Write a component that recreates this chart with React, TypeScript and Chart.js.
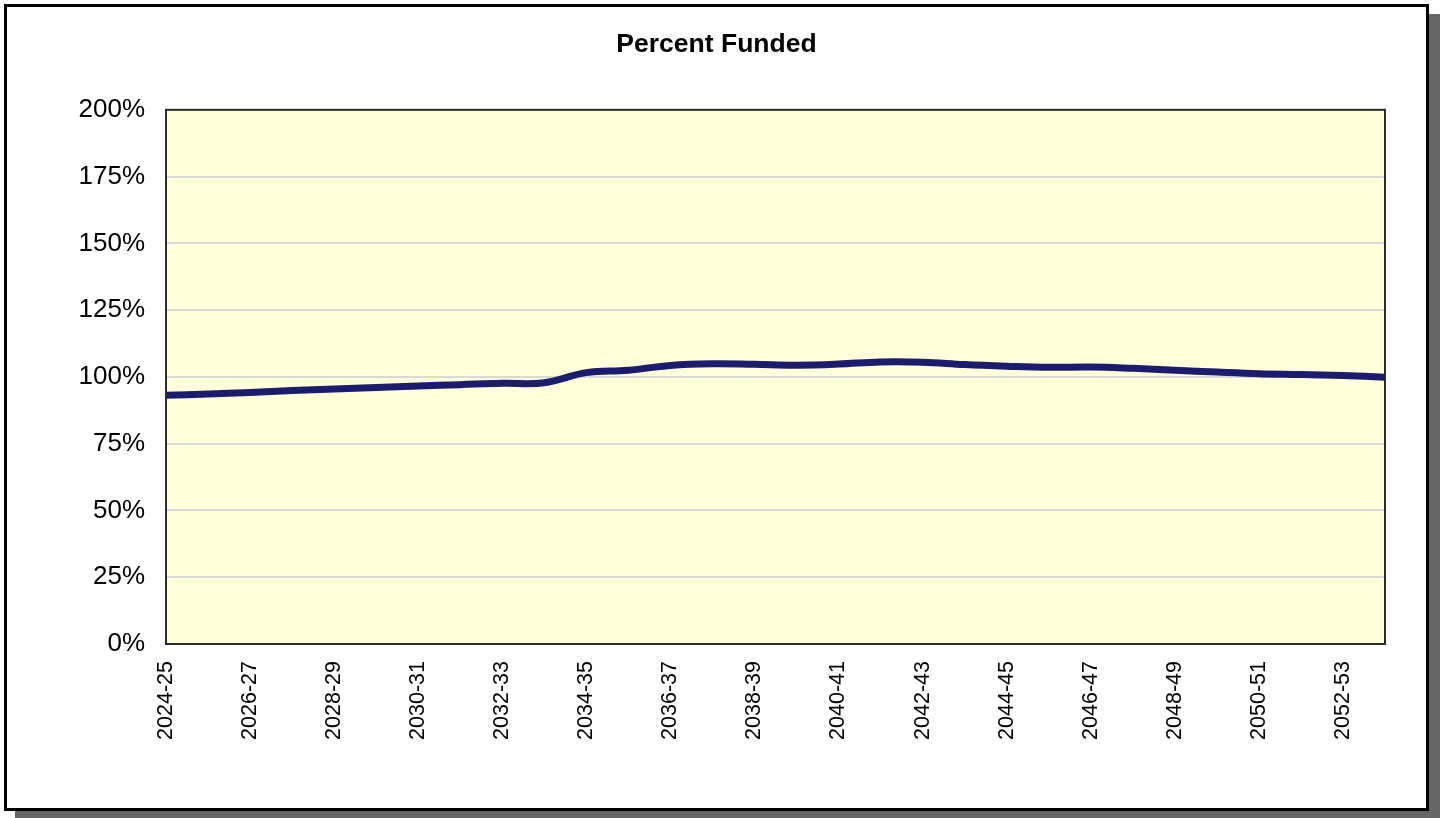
import React, { useEffect, useRef } from "react";
import { Chart, registerables } from "chart.js";

Chart.register(...registerables);

const years: string[] = [
  "2024-25", "2025-26", "2026-27", "2027-28", "2028-29", "2029-30",
  "2030-31", "2031-32", "2032-33", "2033-34", "2034-35", "2035-36",
  "2036-37", "2037-38", "2038-39", "2039-40", "2040-41", "2041-42",
  "2042-43", "2043-44", "2044-45", "2045-46", "2046-47", "2047-48",
  "2048-49", "2049-50", "2050-51", "2051-52", "2052-53", "2053-54",
];

const percentFunded: number[] = [
  93.1, 93.6, 94.2, 94.9, 95.5, 96.0, 96.6, 97.1, 97.6, 97.8,
  101.6, 102.5, 104.3, 104.9, 104.7, 104.4, 104.8, 105.6, 105.5, 104.6,
  104.0, 103.6, 103.7, 103.2, 102.5, 101.8, 101.2, 100.9, 100.5, 99.9,
];

const yTicks: number[] = [0, 25, 50, 75, 100, 125, 150, 175, 200];

const FONT = "'Liberation Sans', Arial, Helvetica, sans-serif";

const plotBgPlugin = {
  id: "plotBg",
  beforeDraw(chart: any) {
    const { ctx, chartArea } = chart;
    ctx.save();
    ctx.fillStyle = "#FFFFD9";
    ctx.fillRect(chartArea.left, chartArea.top, chartArea.right - chartArea.left, chartArea.bottom - chartArea.top);
    ctx.restore();
  },
  afterDraw(chart: any) {
    const { ctx, chartArea } = chart;
    ctx.save();
    ctx.strokeStyle = "#2b2b2b";
    ctx.lineWidth = 2;
    ctx.strokeRect(chartArea.left, chartArea.top, chartArea.right - chartArea.left, chartArea.bottom - chartArea.top);
    ctx.restore();
  },
};

export default function App() {
  const ref = useRef<HTMLCanvasElement | null>(null);

  useEffect(() => {
    if (!ref.current) return;
    const chart = new Chart(ref.current, {
      type: "line",
      data: {
        labels: years,
        datasets: [
          {
            label: "Percent Funded",
            data: percentFunded,
            borderColor: "#1c1c6e",
            borderWidth: 7,
            pointRadius: 0,
            tension: 0.4,
            fill: false,
          },
        ],
      },
      options: {
        animation: false,
        responsive: false,
        maintainAspectRatio: false,
        layout: { padding: { left: 41, right: 41, top: 0, bottom: 0 } },
        plugins: {
          legend: { display: false },
          tooltip: { enabled: false },
          title: {
            display: true,
            text: "Percent Funded",
            color: "#000",
            font: { family: FONT, size: 26.5, weight: "bold" },
            padding: { top: 22, bottom: 49 },
          },
        },
        scales: {
          x: {
            type: "category",
            offset: false,
            grid: { display: false, drawTicks: false },
            border: { display: false },
            ticks: {
              autoSkip: false,
              maxRotation: 90,
              minRotation: 90,
              padding: 17,
              color: "#000",
              font: { family: FONT, size: 21.5 },
              callback: (_v: any, i: number) => (i % 2 === 0 ? years[i] : ""),
            },
            afterFit: (scale: any) => {
              scale.height = 164;
              scale.paddingLeft = 0;
              scale.paddingRight = 0;
            },
          },
          y: {
            min: 0,
            max: 200,
            afterBuildTicks: (scale: any) => {
              scale.ticks = yTicks.map((v) => ({ value: v }));
            },
            grid: { color: "#d9d9d9", lineWidth: 2, drawTicks: false },
            border: { display: false },
            ticks: {
              padding: 21,
              color: "#000",
              font: { family: FONT, size: 26 },
              callback: (v: any) => `${v}%`,
            },
            afterFit: (scale: any) => {
              scale.width = 118;
            },
          },
        },
      },
      plugins: [plotBgPlugin],
    });
    return () => chart.destroy();
  }, []);

  return (
    <div
      style={{
        position: "absolute",
        left: 4,
        top: 4,
        width: 1425,
        height: 807,
        boxSizing: "border-box",
        border: "3px solid #000",
        background: "#fff",
        boxShadow: "11px 10px 0 #666",
      }}
    >
      <canvas
        ref={ref}
        width={1419}
        height={801}
        style={{ position: "absolute", left: 0, top: 0, width: 1419, height: 801 }}
      />
    </div>
  );
}
